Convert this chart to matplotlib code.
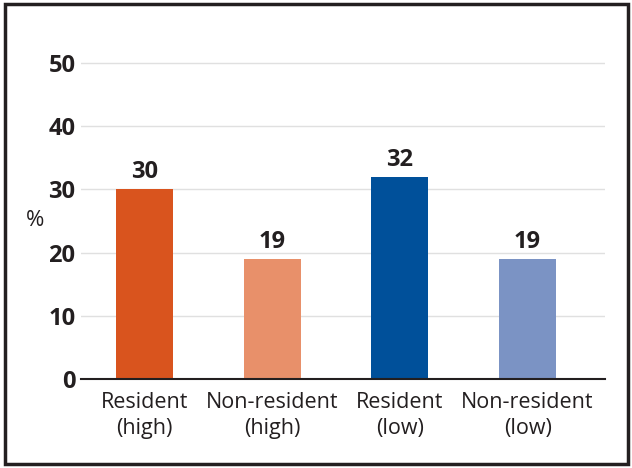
import matplotlib
matplotlib.use("Agg")
import matplotlib.pyplot as plt
from matplotlib.patches import Rectangle

categories = ["Resident\n(high)", "Non-resident\n(high)", "Resident\n(low)", "Non-resident\n(low)"]
values = [30, 19, 32, 19]
colors = ["#D9541E", "#E8906A", "#00509A", "#7B93C4"]
yticks = [0, 10, 20, 30, 40, 50]

plt.rcParams["font.family"] = ["Open Sans", "DejaVu Sans"]
text_color = "#231f20"

fig = plt.figure(figsize=(6.32, 4.68), dpi=100)
ax = fig.add_axes([81 / 632, 1 - 379 / 468, 524 / 632, (379 - 63) / 468 / 50 * 55])

x = list(range(len(values)))
ax.bar(x, values, width=0.446, color=colors, zorder=3)
for xi, v in zip(x, values):
    ax.text(xi, v + 0.8, f"{v}", ha="center", va="bottom", fontsize=17,
            fontweight="bold", color=text_color)

ax.set_xlim(-0.497, 3.606)
ax.set_ylim(0, 55)
ax.set_yticks(yticks)
ax.set_yticklabels([str(t) for t in yticks], fontsize=17, fontweight="bold", color=text_color)
ax.set_xticks(x)
ax.set_xticklabels(categories, fontsize=15.5, color=text_color, linespacing=1.33)
ax.tick_params(axis="y", length=0, pad=4)
ax.tick_params(axis="x", length=0, pad=9)
ax.grid(axis="y", color="#e0e0e0", linewidth=1, zorder=0)
for s in ["top", "right", "left"]:
    ax.spines[s].set_visible(False)
ax.spines["bottom"].set_color(text_color)
ax.spines["bottom"].set_linewidth(1.5)
ax.spines["bottom"].set_zorder(4)

fig.text(35 / 632, 1 - 221 / 468, "%", ha="center", va="center", fontsize=16, color=text_color)

fig.patches.append(Rectangle((5 / 632, 4 / 468), 623 / 632, 460 / 468, transform=fig.transFigure,
                             fill=False, edgecolor=text_color, linewidth=2.5))

fig.savefig("out.png", dpi=100)
